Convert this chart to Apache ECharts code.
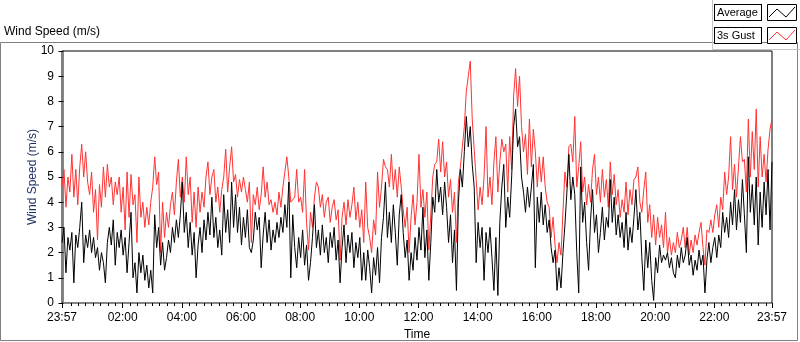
<!DOCTYPE html>
<html>
<head>
<meta charset="utf-8">
<script src="https://cdn.jsdelivr.net/npm/echarts@6/dist/echarts.min.js"></script>
<style>
html, body { margin: 0; padding: 0; background: #fff; }
#chart { width: 800px; height: 342px; }
</style>
</head>
<body>
<div id="chart"></div>
<script>
// samples every 4 minutes, starting 23:57 the day before (minute -3)
const startMin = -3
const stepMin = 4

const gust = [
  4.6, 5.3, 3.8, 5.0, 4.4, 5.9, 4.2, 5.3, 3.9, 5.4,
  6.3, 5.0, 6.0, 4.8, 4.3, 5.2, 3.6, 4.5, 2.5, 4.7,
  3.8, 5.4, 4.2, 5.5, 4.6, 5.0, 3.9, 4.8, 4.3, 5.0,
  3.6, 4.6, 2.9, 5.2, 3.4, 5.1, 3.9, 4.3, 2.4, 5.0,
  3.4, 4.0, 3.0, 3.8, 3.1, 4.0, 4.6, 5.8, 4.7, 5.2,
  2.0, 4.0, 2.6, 3.6, 3.0, 3.9, 4.4, 3.5, 4.8, 5.7,
  4.2, 5.0, 4.0, 5.8, 4.3, 5.0, 3.2, 4.4, 3.0, 4.6,
  3.6, 4.4, 3.8, 5.0, 5.6, 4.3, 5.0, 5.3, 4.0, 4.6,
  3.6, 4.5, 5.0, 6.1, 4.4, 5.4, 6.2, 4.8, 5.1, 4.2,
  4.9, 4.4, 5.0, 4.5, 4.0, 4.8, 2.4, 4.3, 3.9, 4.6,
  3.7, 4.3, 5.4, 4.2, 4.8, 3.9, 4.1, 3.6, 4.0, 3.5,
  4.4, 3.8, 4.6, 5.2, 5.8, 5.0, 4.0, 4.0, 4.2, 5.3,
  4.0, 4.2, 3.6, 5.3, 3.2, 2.1, 3.6, 3.0, 4.2, 4.8,
  4.6, 3.8, 4.3, 3.4, 4.0, 4.2, 3.2, 3.8, 4.1, 3.3,
  3.7, 1.7, 3.4, 4.0, 3.1, 4.1, 3.4, 3.9, 4.6, 3.3,
  4.0, 3.0, 3.7, 2.4, 4.8, 3.0, 2.6, 2.0, 3.3, 2.7,
  5.2, 3.8, 4.6, 5.7, 5.4, 5.3, 4.6, 5.9, 4.5, 5.3,
  4.2, 5.4, 4.6, 3.7, 3.0, 3.8, 2.0, 3.4, 4.3, 3.1,
  4.0, 5.9, 3.8, 4.5, 3.4, 4.4, 2.1, 3.5, 5.0, 5.5,
  5.6, 6.5, 5.2, 6.4, 5.0, 5.6, 4.2, 4.9, 3.6, 4.4,
  2.4, 4.8, 5.4, 6.2, 7.0, 8.4, 9.0, 9.6, 7.3, 6.1,
  4.9, 3.7, 4.6, 3.9, 5.0, 7.0, 4.2, 5.0, 3.9, 5.6,
  6.6, 4.4, 5.6, 6.5, 6.0, 6.3, 4.4, 6.6, 5.3, 8.2,
  9.3, 7.8, 9.0, 7.0, 6.0, 6.7, 5.1, 7.3, 5.4, 6.9,
  6.0, 4.6, 5.8, 4.8, 5.8, 4.6, 4.0, 3.8, 2.6, 3.4,
  2.3, 1.6, 2.4, 1.9, 3.6, 5.2, 4.6, 6.2, 6.3, 5.6,
  7.4, 4.6, 5.4, 6.4, 4.4, 5.0, 3.9, 4.7, 4.0, 5.3,
  5.9, 4.3, 5.0, 4.0, 5.3, 4.2, 4.9, 3.8, 5.6, 4.3,
  5.1, 3.9, 4.5, 3.4, 4.1, 3.6, 4.8, 3.5, 4.5, 3.9,
  4.9, 5.0, 5.4, 4.0, 3.6, 4.5, 5.2, 3.2, 3.9, 2.6,
  3.5, 2.3, 3.4, 2.6, 3.1, 2.2, 3.6, 2.0, 2.6, 1.9,
  2.4, 2.0, 2.8, 2.2, 2.5, 3.0, 2.2, 3.0, 1.9, 2.5,
  2.0, 2.7, 2.3, 2.8, 3.2, 2.2, 1.5, 2.9, 2.8, 3.3,
  2.8, 3.5, 3.9, 3.0, 4.2, 3.7, 5.2, 4.3, 5.0, 6.6,
  4.5, 5.5, 4.2, 5.4, 6.6, 5.6, 5.7, 4.4, 7.3, 5.0,
  6.8, 5.3, 7.7, 4.6, 6.6, 5.0, 5.9, 4.8, 6.1, 6.9,
  7.3
]

const average = [
  2.4, 3.0, 1.2, 2.6, 2.1, 2.8, 0.8, 2.7, 2.2, 3.0,
  4.0, 1.6, 2.7, 2.2, 2.9, 2.0, 2.6, 1.8, 2.2, 1.3,
  2.0, 1.6, 0.8, 2.4, 3.0, 2.3, 3.3, 1.5, 2.8, 2.2,
  2.9, 1.9, 2.6, 1.2, 2.4, 3.6, 1.0, 1.6, 0.4, 2.0,
  1.2, 1.9, 0.9, 1.5, 0.6, 1.3, 0.4, 3.5, 2.2, 3.0,
  1.5, 2.4, 1.3, 1.8, 2.5, 2.0, 3.0, 2.4, 3.3, 2.6,
  3.5, 4.8, 2.8, 3.6, 2.2, 3.2, 1.9, 2.8, 1.0, 2.3,
  3.0, 2.0, 3.3, 2.5, 3.6, 2.7, 4.2, 2.6, 3.4, 2.2,
  2.9, 1.9, 4.3, 2.8, 3.7, 2.4, 4.8, 3.0, 4.3, 2.8,
  3.8, 2.3, 3.4, 2.6, 3.7, 2.2, 2.0, 2.5, 3.6, 2.9,
  3.4, 1.4, 2.7, 3.6, 2.4, 3.3, 2.1, 2.9, 2.4, 3.2,
  2.6, 3.4, 2.8, 3.9, 3.0, 4.8, 1.0, 3.5, 2.2, 1.4,
  2.6, 1.8, 2.9, 1.5, 2.3, 0.9, 1.6, 2.6, 3.9, 2.2,
  2.9, 1.9, 3.1, 2.0, 2.6, 1.6, 2.8, 2.2, 3.0, 1.7,
  2.5, 0.8, 2.2, 3.1, 1.6, 2.7, 2.0, 2.8, 1.4, 2.4,
  1.8, 2.6, 0.9, 2.0, 0.9, 2.1, 1.4, 0.4, 1.8, 1.1,
  2.2, 0.8, 2.6, 3.4, 4.8, 2.6, 3.6, 2.4, 3.9, 2.8,
  1.5, 3.5, 4.3, 2.8, 1.8, 2.5, 0.9, 2.0, 1.3, 2.6,
  1.7, 3.0, 2.1, 3.8, 1.8, 2.9, 0.9, 2.4, 4.2, 3.6,
  5.3, 4.0, 4.6, 3.5, 4.8, 3.8, 2.4, 3.5, 1.6, 2.9,
  0.5, 4.0, 5.3, 4.6, 6.0, 7.4, 6.2, 7.0, 5.5, 4.6,
  1.6, 3.2, 2.2, 3.0, 0.9, 2.8, 2.0, 3.0, 1.8, 0.5,
  2.6, 0.3, 3.2, 4.6, 5.5, 3.0, 4.2, 3.4, 5.0, 7.0,
  7.7, 6.2, 6.6, 5.0, 4.4, 3.6, 4.6, 3.8, 4.6, 5.5,
  1.4, 4.2, 3.2, 4.4, 3.1, 3.9, 2.8, 3.3, 2.2, 1.6,
  2.1, 0.5, 1.4, 0.6, 2.0, 3.1, 4.4, 5.9, 4.1, 5.0,
  4.3, 2.0, 0.4, 5.4, 3.2, 4.0, 2.4, 1.3, 3.3, 4.5,
  2.8, 3.5, 2.0, 2.8, 3.8, 2.5, 3.4, 3.0, 4.9, 3.2,
  4.2, 2.7, 3.5, 2.6, 3.2, 2.2, 3.6, 2.1, 3.0, 2.4,
  3.4, 4.5, 2.9, 3.6, 1.8, 0.5, 2.5, 1.4, 2.4, 0.9,
  0.1, 1.8, 1.2, 2.3, 1.6, 1.9, 1.7, 2.0, 1.4, 1.8,
  1.2, 1.0, 1.9, 1.4, 2.2, 1.6, 1.9, 2.6, 1.5, 1.9,
  1.1, 1.7, 1.3, 2.1, 1.5, 1.9, 0.4, 1.7, 2.4, 1.6,
  2.2, 2.6, 1.8, 2.7, 2.2, 3.6, 2.8, 3.4, 2.6, 4.0,
  3.1, 4.5, 2.9, 4.1, 3.2, 4.9, 3.5, 2.0, 5.8, 3.6,
  4.7, 3.1, 5.0, 2.3, 4.4, 3.0, 4.8, 3.5, 5.3, 2.9,
  5.6
]

// time axis: labelled ticks (minutes from midnight)
const majorTicks = [-3, 120, 240, 360, 480, 600, 720, 840, 960, 1080, 1200, 1320, 1437]
const minorTicks = []
for (let m = 15; m < 1437; m += 15) {
  if (m % 120 !== 0) minorTicks.push(m)
}

function pad(n) {
  return n < 10 ? '0' + n : '' + n
}
function timeLabel(v) {
  const m = (Math.round(v) + 1440) % 1440
  return pad(Math.floor(m / 60)) + ':' + pad(m % 60)
}

function toPoints(arr) {
  return arr.map((v, i) => [startMin + i * stepMin, v])
}

const legendText = {
  fontSize: 11,
  color: '#000',
  width: 41,
  height: 12,
  lineHeight: 12,
  padding: [2, 3, 1, 2],
  borderColor: '#000',
  borderWidth: 1,
  backgroundColor: '#fff'
}

const chart = echarts.init(document.getElementById('chart'), null, { renderer: 'canvas' })

chart.setOption({
  animation: false,
  textStyle: { fontFamily: 'Liberation Sans', fontSize: 12, color: '#000' },
  title: {
    text: 'Wind Speed (m/s)',
    left: 4,
    top: 26,
    padding: 0,
    textStyle: { fontSize: 12, fontWeight: 'normal', color: '#000', fontFamily: 'Liberation Sans' }
  },
  legend: [
    {
      data: ['Average'],
      left: 710,
      top: 4,
      padding: 0,
      icon: 'none',
      itemWidth: 0,
      itemHeight: 10,
      selectedMode: false,
      textStyle: legendText
    },
    {
      data: ['3s Gust'],
      left: 710,
      top: 27,
      padding: 0,
      icon: 'none',
      itemWidth: 0,
      itemHeight: 10,
      selectedMode: false,
      textStyle: legendText
    }
  ],
  grid: {
    left: 62,
    right: 28,
    top: 51,
    bottom: 39,
    outerBoundsMode: 'none',
    show: true,
    borderColor: '#000',
    borderWidth: 1,
    backgroundColor: '#fff'
  },
  xAxis: [
    {
      type: 'value',
      min: -3,
      max: 1437,
      name: 'Time',
      nameLocation: 'middle',
      nameGap: 26,
      nameMoveOverlap: false,
      nameTextStyle: { fontSize: 12, color: '#000' },
      axisLine: { show: true, lineStyle: { color: '#888', width: 1 } },
      axisTick: { show: true, customValues: majorTicks, length: 5, lineStyle: { color: '#000' } },
      axisLabel: { customValues: majorTicks, formatter: timeLabel, margin: 9, fontSize: 12, color: '#000' },
      splitLine: { show: false }
    },
    {
      type: 'value',
      min: -3,
      max: 1437,
      position: 'bottom',
      axisLine: { show: false },
      axisTick: { show: true, customValues: minorTicks, length: 3, lineStyle: { color: '#000' } },
      axisLabel: { show: false },
      splitLine: { show: false }
    }
  ],
  yAxis: [
    {
      type: 'value',
      min: 0,
      max: 10,
      interval: 1,
      name: 'Wind Speed (m/s)',
      nameLocation: 'middle',
      nameGap: 23,
      nameMoveOverlap: false,
      nameTextStyle: { fontSize: 12, color: '#1c2b5e' },
      axisLine: { show: true, lineStyle: { color: '#000' } },
      axisTick: { show: true, length: 5, lineStyle: { color: '#000' } },
      axisLabel: { margin: 8, fontSize: 12, color: '#000' },
      splitLine: { show: false }
    },
    {
      type: 'value',
      min: 0,
      max: 10,
      position: 'right',
      axisLine: { show: true, lineStyle: { color: '#888' } },
      axisTick: { show: false },
      axisLabel: { show: false },
      splitLine: { show: false }
    }
  ],
  series: [
    {
      name: '3s Gust',
      type: 'line',
      data: toPoints(gust),
      showSymbol: false,
      symbol: 'none',
      lineStyle: { width: 1, color: '#ff3333' },
      itemStyle: { color: '#ff3333' }
    },
    {
      name: 'Average',
      type: 'line',
      data: toPoints(average),
      showSymbol: false,
      symbol: 'none',
      lineStyle: { width: 1, color: '#000' },
      itemStyle: { color: '#000' }
    }
  ],
  graphic: [
    // outer panel frame
    {
      type: 'rect',
      z: -10,
      shape: { x: 0.5, y: 42.5, width: 797, height: 298 },
      style: { fill: 'none', stroke: '#808080', lineWidth: 1 }
    },
    // legend panel edges
    {
      type: 'polyline',
      shape: { points: [[712.5, 0], [712.5, 49.5], [800, 49.5]] },
      style: { fill: 'none', stroke: '#c4c4c4', lineWidth: 1 }
    },
    // legend line samples
    {
      type: 'rect',
      shape: { x: 767.5, y: 4.5, width: 29, height: 16 },
      style: { fill: '#fff', stroke: '#000', lineWidth: 1 }
    },
    {
      type: 'polyline',
      shape: { points: [[769, 17], [777, 9], [786, 17], [795, 7]] },
      style: { fill: 'none', stroke: '#000', lineWidth: 1 }
    },
    {
      type: 'rect',
      shape: { x: 767.5, y: 27.5, width: 29, height: 16 },
      style: { fill: '#fff', stroke: '#000', lineWidth: 1 }
    },
    {
      type: 'polyline',
      shape: { points: [[769, 40], [777, 32], [786, 40], [795, 30]] },
      style: { fill: 'none', stroke: '#ff3333', lineWidth: 1 }
    }
  ]
})
</script>
</body>
</html>
